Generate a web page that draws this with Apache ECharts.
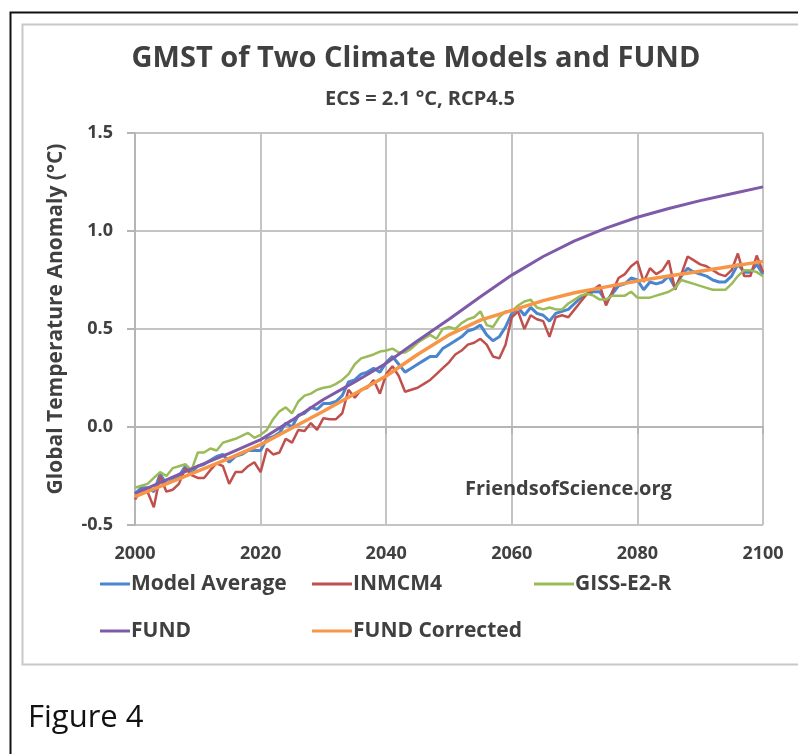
<!DOCTYPE html>
<html>
<head>
<meta charset="utf-8">
<script src="https://cdn.jsdelivr.net/npm/echarts@6/dist/echarts.min.js"></script>
<style>
  html, body { margin: 0; padding: 0; background: #fff; }
  #GmstChart { width: 798px; height: 754px; }
</style>
</head>
<body>
<div id="GmstChart"></div>
<script>
// annual years 2000..2100 for the climate model runs
const years = [];
for (let y = 2000; y <= 2100; y++) years.push(y);

const inmcm4 = [
  -0.37, -0.32, -0.33, -0.41, -0.25, -0.33, -0.32, -0.29, -0.21, -0.245,
  -0.26, -0.26, -0.22, -0.185, -0.20, -0.29, -0.23, -0.23, -0.20, -0.18,
  -0.23, -0.11, -0.14, -0.13, -0.06, -0.08, -0.015, -0.02, 0.02, -0.015,
  0.045, 0.04, 0.04, 0.07, 0.19, 0.15, 0.19, 0.20, 0.24, 0.17,
  0.27, 0.31, 0.26, 0.18, 0.19, 0.20, 0.22, 0.24, 0.27, 0.30,
  0.33, 0.37, 0.39, 0.42, 0.43, 0.45, 0.42, 0.36, 0.35, 0.42,
  0.56, 0.59, 0.50, 0.57, 0.55, 0.54, 0.46, 0.56, 0.57, 0.56,
  0.60, 0.64, 0.68, 0.70, 0.725, 0.62, 0.69, 0.76, 0.78, 0.82,
  0.845, 0.74, 0.81, 0.78, 0.80, 0.85, 0.70, 0.78, 0.87, 0.85,
  0.83, 0.82, 0.80, 0.78, 0.77, 0.80, 0.885, 0.77, 0.77, 0.875,
  0.79
];

const giss = [
  -0.31, -0.30, -0.29, -0.26, -0.23, -0.25, -0.21, -0.20, -0.19, -0.22,
  -0.13, -0.13, -0.11, -0.12, -0.08, -0.07, -0.06, -0.045, -0.03, -0.055,
  -0.04, -0.015, 0.04, 0.08, 0.10, 0.07, 0.13, 0.16, 0.17, 0.19,
  0.20, 0.205, 0.22, 0.24, 0.27, 0.32, 0.35, 0.36, 0.37, 0.385,
  0.39, 0.40, 0.38, 0.38, 0.40, 0.43, 0.45, 0.47, 0.45, 0.50,
  0.51, 0.50, 0.53, 0.55, 0.56, 0.59, 0.52, 0.51, 0.56, 0.59,
  0.59, 0.62, 0.64, 0.65, 0.61, 0.60, 0.61, 0.60, 0.60, 0.63,
  0.65, 0.67, 0.68, 0.67, 0.65, 0.65, 0.67, 0.67, 0.67, 0.69,
  0.66, 0.66, 0.66, 0.67, 0.68, 0.69, 0.71, 0.75, 0.74, 0.73,
  0.72, 0.71, 0.70, 0.70, 0.70, 0.73, 0.77, 0.80, 0.80, 0.79,
  0.77
];

const modelAverage = [
  -0.34, -0.31, -0.31, -0.33, -0.24, -0.29, -0.27, -0.25, -0.20, -0.23,
  -0.20, -0.19, -0.17, -0.15, -0.14, -0.18, -0.15, -0.14, -0.12, -0.12,
  -0.12, -0.06, -0.05, -0.03, 0.02, 0.00, 0.06, 0.07, 0.10, 0.09,
  0.12, 0.12, 0.13, 0.16, 0.23, 0.24, 0.27, 0.28, 0.30, 0.28,
  0.33, 0.36, 0.32, 0.28, 0.30, 0.32, 0.34, 0.36, 0.36, 0.40,
  0.42, 0.44, 0.46, 0.49, 0.50, 0.52, 0.47, 0.44, 0.46, 0.51,
  0.58, 0.61, 0.57, 0.61, 0.58, 0.57, 0.54, 0.58, 0.59, 0.60,
  0.63, 0.66, 0.68, 0.69, 0.69, 0.64, 0.68, 0.72, 0.73, 0.76,
  0.75, 0.70, 0.74, 0.73, 0.74, 0.77, 0.71, 0.77, 0.81, 0.79,
  0.78, 0.77, 0.75, 0.74, 0.74, 0.77, 0.83, 0.79, 0.79, 0.83,
  0.78
];

// FUND curves are smooth, read every 5 years
const fundYears = [2000, 2005, 2010, 2015, 2020, 2025, 2030, 2035, 2040, 2045, 2050,
  2055, 2060, 2065, 2070, 2075, 2080, 2085, 2090, 2095, 2100];
const fund = [-0.34, -0.27, -0.20, -0.135, -0.065, 0.035, 0.14, 0.23, 0.325, 0.44, 0.55,
  0.665, 0.775, 0.87, 0.95, 1.015, 1.07, 1.115, 1.155, 1.19, 1.225];
const fundCorrected = [-0.355, -0.29, -0.225, -0.16, -0.09, -0.005, 0.08, 0.17, 0.26, 0.37, 0.47,
  0.545, 0.595, 0.645, 0.685, 0.715, 0.745, 0.77, 0.795, 0.82, 0.845];

const pairs = (xs, ys) => xs.map((x, i) => [x, ys[i]]);

const FONT = "'Open Sans', 'Noto Sans', sans-serif";
const TEXT = "#404040";

const chart = echarts.init(document.getElementById("GmstChart"), null, { renderer: "canvas" });

const legendBase = {
  orient: "vertical",
  icon: "rect",
  itemWidth: 30,
  itemHeight: 3,
  itemGap: 23,
  top: 572,
  padding: 0,
  selectedMode: false,
  textStyle: { fontFamily: FONT, fontWeight: "bold", fontSize: 21, color: TEXT, lineHeight: 24, padding: [0, 0, 0, -4] }
};

const option = {
  backgroundColor: "#fff",
  animation: false,
  title: [
    {
      text: "GMST of Two Climate Models and FUND",
      left: 411, top: 39, textAlign: "center",
      textStyle: { fontFamily: FONT, fontWeight: "bold", fontSize: 29, color: TEXT }
    },
    {
      text: "ECS = 2.1 °C, RCP4.5",
      left: 415, top: 84, textAlign: "center",
      textStyle: { fontFamily: FONT, fontWeight: "bold", fontSize: 20, color: TEXT }
    }
  ],
  legend: [
    Object.assign({}, legendBase, { left: 100, data: ["Model Average", "FUND"] }),
    Object.assign({}, legendBase, { left: 312, itemWidth: 40, data: ["INMCM4", "FUND Corrected"] }),
    Object.assign({}, legendBase, { left: 534, itemWidth: 40, data: ["GISS-E2-R"] })
  ],
  grid: { left: 135, right: 35, top: 133, bottom: 229 },
  xAxis: {
    type: "value",
    min: 2000, max: 2100, interval: 20,
    axisLine: { lineStyle: { color: "#b5b5b5", width: 2 } },
    axisTick: { show: true, length: 7, lineStyle: { color: "#b5b5b5", width: 2 } },
    splitLine: { show: true, lineStyle: { color: "#c4c4c4", width: 2 } },
    axisLabel: { fontFamily: FONT, fontWeight: "bold", fontSize: 18, color: TEXT, margin: 20,
      formatter: v => String(v) }
  },
  yAxis: {
    type: "value",
    min: -0.5, max: 1.5, interval: 0.5,
    name: "Global Temperature Anomaly (°C)",
    nameLocation: "middle",
    nameGap: 68,
    nameTextStyle: { fontFamily: FONT, fontWeight: "bold", fontSize: 21, color: TEXT, padding: [0, 0, 0, 20] },
    axisLine: { show: true, lineStyle: { color: "#b5b5b5", width: 2 } },
    axisTick: { show: true, length: 8, lineStyle: { color: "#b5b5b5", width: 2 } },
    splitLine: { show: true, lineStyle: { color: "#c4c4c4", width: 2 } },
    axisLabel: { fontFamily: FONT, fontWeight: "bold", fontSize: 18, color: TEXT, margin: 22,
      formatter: v => v.toFixed(1) }
  },
  graphic: [
    { type: "rect", left: 8, top: 10, shape: { width: 900, height: 900 }, silent: true, z: -10,
      style: { fill: "none", stroke: "#111", lineWidth: 2 } },
    { type: "rect", left: 20, top: 22, shape: { width: 900, height: 640 }, silent: true, z: -10,
      style: { fill: "none", stroke: "#c8c8c8", lineWidth: 2 } },
    { type: "text", left: 465, top: 479, z: 10,
      style: { text: "FriendsofScience.org", font: "bold 20px " + FONT, fill: TEXT } },
    { type: "text", left: 28, top: 703,
      style: { text: "Figure 4", font: "31px " + FONT, fill: "#111" } }
  ],
  series: [
    { name: "Model Average", type: "line", showSymbol: false, data: pairs(years, modelAverage),
      itemStyle: { color: "#4a86cf" }, lineStyle: { color: "#4a86cf", width: 3 } },
    { name: "INMCM4", type: "line", showSymbol: false, data: pairs(years, inmcm4),
      itemStyle: { color: "#c0504d" }, lineStyle: { color: "#c0504d", width: 2.5 } },
    { name: "GISS-E2-R", type: "line", showSymbol: false, data: pairs(years, giss),
      itemStyle: { color: "#9bbb59" }, lineStyle: { color: "#9bbb59", width: 2.5 } },
    { name: "FUND", type: "line", showSymbol: false, data: pairs(fundYears, fund),
      itemStyle: { color: "#7f5aa8" }, lineStyle: { color: "#7f5aa8", width: 3 } },
    { name: "FUND Corrected", type: "line", showSymbol: false, data: pairs(fundYears, fundCorrected),
      itemStyle: { color: "#f79646" }, lineStyle: { color: "#f79646", width: 3.5 } }
  ]
};

chart.setOption(option);
</script>
</body>
</html>
